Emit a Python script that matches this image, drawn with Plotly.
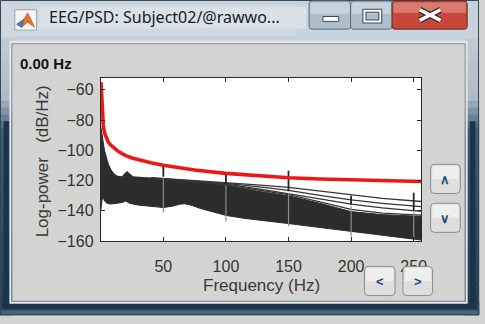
import plotly.graph_objects as go

# ---------------- data ----------------
# mean PSD (red)
freq_red = [0.25, 1, 1.5, 2, 3, 4, 6, 8, 10, 13, 16, 20, 25, 30, 40, 50, 60, 75,
            100, 125, 150, 175, 200, 225, 256]
psd_red = [-55, -68, -77, -83, -88.5, -91, -94.5, -96.5, -98, -100, -101.7, -103.5,
           -105, -106.2, -108.2, -109.8, -111, -113, -115.2, -116.8, -118.1, -118.9,
           -119.5, -120, -120.6]

# dense band of channels: upper and lower envelopes
band_upper_freq = [0, 1, 2, 3, 4, 6, 8, 10, 13, 17, 19, 21, 23, 26, 35, 45, 60, 75,
                   90, 100, 125, 150, 175, 200, 225, 256]
band_upper_db = [-84, -90, -96, -100, -103, -109, -112.5, -115, -117, -117.5, -115.5,
                 -114, -115.5, -117.5, -118, -118.5, -119.5, -120.5, -121.8, -123,
                 -127, -130, -135, -140.5, -142.5, -143.6]
band_lower_freq = [0, 1, 2, 3, 5, 8, 12, 17, 20, 23, 30, 40, 50, 58, 63, 67, 72, 80,
                   90, 100, 115, 130, 150, 175, 200, 225, 256]
band_lower_db = [-140, -133, -131, -133.5, -135, -135.5, -135, -134.5, -133.5, -135,
                 -136.2, -137, -137.8, -136.8, -135.6, -135.3, -136.2, -138.5, -141,
                 -143, -145, -146.6, -148.4, -151, -153.7, -156.3, -159.3]

# individual channels that separate from the band at high frequency
line_freq = [40, 70, 100, 125, 150, 175, 200, 225, 256]
ch_a = [-118.0, -119.6, -121.2, -122.8, -124.5, -127.0, -129.5, -131.7, -133.8]
ch_b = [-118.2, -120.0, -121.8, -124.0, -126.5, -129.7, -132.8, -135.0, -137.2]
ch_c = [-118.4, -120.4, -122.3, -125.3, -128.5, -132.0, -135.5, -138.0, -140.4]
ch_d = [-118.6, -120.8, -122.7, -126.2, -129.3, -134.0, -139.0, -141.5, -142.8]

# line-noise harmonics
harm_freq = [50, 100, 150, 200, 250]
harm_peak_db = [-109.5, -115, -113.5, -130, -128]
harm_base_db = [-118.5, -123, -128, -137, -141]
harm_dip_db = [-141, -147, -150, -157, -160]

x_ticks = [50, 100, 150, 200, 250]
y_ticks = [-160, -140, -120, -100, -80, -60]

# ---------------- layout helpers ----------------
W, H = 485, 324


def X(p):
    return p / W


def Y(p):
    return 1 - p / H


shapes = []
annots = []


def rect(x0, y0, x1, y1, fill, line=None, lw=1):
    shapes.append(dict(type="rect", xref="paper", yref="paper", layer="above",
                       x0=X(x0), x1=X(x1), y0=Y(y1), y1=Y(y0), fillcolor=fill,
                       line=dict(color=line if line else fill, width=lw if line else 0.5)))


def rrect(x0, y0, x1, y1, r, fill, line, lw=1):
    p = (f"M{X(x0+r)},{Y(y0)} L{X(x1-r)},{Y(y0)} Q{X(x1)},{Y(y0)} {X(x1)},{Y(y0+r)} "
         f"L{X(x1)},{Y(y1-r)} Q{X(x1)},{Y(y1)} {X(x1-r)},{Y(y1)} "
         f"L{X(x0+r)},{Y(y1)} Q{X(x0)},{Y(y1)} {X(x0)},{Y(y1-r)} "
         f"L{X(x0)},{Y(y0+r)} Q{X(x0)},{Y(y0)} {X(x0+r)},{Y(y0)} Z")
    shapes.append(dict(type="path", xref="paper", yref="paper", path=p, layer="above",
                       fillcolor=fill, line=dict(color=line, width=lw)))


def seg(x0, y0, x1, y1, color, w):
    shapes.append(dict(type="line", xref="paper", yref="paper", layer="above",
                       x0=X(x0), y0=Y(y0), x1=X(x1), y1=Y(y1),
                       line=dict(color=color, width=w)))


def text(x, y, s, size, color, family="Liberation Sans", xa="center", ya="middle",
         angle=0, bold=False):
    if bold:
        s = f"<b>{s}</b>"
    annots.append(dict(xref="paper", yref="paper", x=X(x), y=Y(y), text=s,
                       showarrow=False, xanchor=xa, yanchor=ya, textangle=angle,
                       font=dict(size=size, color=color, family=family)))


def mix(c1, c2, t):
    t = max(0.0, min(1.0, t))
    a = [int(c1[i:i+2], 16) for i in (1, 3, 5)]
    b = [int(c2[i:i+2], 16) for i in (1, 3, 5)]
    return "#" + "".join(f"{round(a[k] + (b[k]-a[k])*t):02x}" for k in range(3))


def frame_col(yc):
    if yc < 100:
        return mix("#c2ccd4", "#aebbc6", (yc - 38) / 62)
    if yc < 135:
        return mix("#aebbc6", "#3e5c76", (yc - 100) / 35)
    return mix("#3e5c76", "#243c52", (yc - 135) / 185)


# ---- window chrome (all drawn around the client area, never over the plot) ----
# title bar
rect(0, 0, 485, 44, "#c6d2dc")
rect(1, 4, 300, 37, "#d0d9e1")
rect(40, 7, 310, 29, "#dae1e7")
# side frames with vertical gradient
for i in range(40):
    y0 = 40 + i * 7.1
    y1 = min(y0 + 7.3, 324)
    col = frame_col(y0 + 3.5)
    rect(0, y0, 12, y1, col)
    rect(471, y0, 485, y1, col)
# bottom frame
rect(0, 310, 485, 324, "#253d53")
rect(0, 319, 485, 324, "#4a6379")
# darker band near the outer edge (lower part)
rect(4, 125, 9, 317, "#1d3448")
rect(476, 125, 481, 317, "#1d3448")
rect(4, 313, 481, 317, "#1d3448")
# light inner edge and client border
rect(10.5, 43, 472.5, 311.5, "rgba(0,0,0,0)", "#e3e7ea", 2)
rect(12, 45, 471, 310, "rgba(0,0,0,0)", "#8a929a", 1)
# outer window outline
rect(0.5, 0.5, 484.5, 323.5, "rgba(0,0,0,0)", "#34485a", 1)

# matlab icon
rect(15, 10, 37, 31, "#f4f6f8", "#9aa6b0", 1)
shapes.append(dict(type="path", xref="paper", yref="paper", layer="above",
                   path=f"M{X(17)},{Y(25)} L{X(24)},{Y(20)} L{X(28)},{Y(13)} L{X(31)},{Y(19)} "
                        f"L{X(35)},{Y(28)} L{X(28)},{Y(23)} L{X(22)},{Y(28)} Z",
                   fillcolor="#e0731f", line=dict(color="#b5421a", width=0.5)))
shapes.append(dict(type="path", xref="paper", yref="paper", layer="above",
                   path=f"M{X(17)},{Y(25)} L{X(24)},{Y(20)} L{X(22)},{Y(28)} Z",
                   fillcolor="#3f7fc4", line=dict(color="#2a5c95", width=0.5)))

# title-bar buttons
rrect(313, 1, 355, 30, 3, "#aebdca", "#5d6e7e", 1)
rrect(355, 1, 397, 30, 3, "#aebdca", "#5d6e7e", 1)
rect(314.5, 2.5, 353.5, 14, "#c6d2dc")
rect(356.5, 2.5, 395.5, 14, "#c6d2dc")
rrect(397, 1, 473, 30, 3, "#c7473a", "#6a2b26", 1)
rect(398.5, 2.5, 471.5, 13, "#d97a6c")
rect(327, 17, 343, 22, "#ffffff", "#3c4854", 1)
rect(369, 11, 385, 22, "rgba(0,0,0,0)", "#3c4854", 4)
rect(369, 11, 385, 22, "rgba(0,0,0,0)", "#ffffff", 2)
seg(425, 10, 446, 21, "#3a2420", 6)
seg(425, 21, 446, 10, "#3a2420", 6)
seg(425, 10, 446, 21, "#ffffff", 3.5)
seg(425, 21, 446, 10, "#ffffff", 3.5)
text(48, 17, "EEG/PSD: Subject02/@rawwo...", 16, "#16202c", family="Noto Sans", xa="left")

# client-area buttons
for (bx0, by0, bx1, by1, glyph) in [(436, 169, 466, 199, "∧"), (436, 209, 466, 239, "∨"),
                                     (369, 274, 400, 304, "<"), (408, 274, 438, 304, ">")]:
    rrect(bx0, by0, bx1, by1, 4, "#dedede", "#8b8b8b", 1)
    rect(bx0 + 2, by0 + 2, bx1 - 2, (by0 + by1) / 2, "#efefef")
    text((bx0 + bx1) / 2, (by0 + by1) / 2 + 1, glyph, 13, "#24488a", bold=True)

# texts
text(18, 65, "0.00 Hz", 15, "#111111", xa="left", bold=True)
text(42.5, 166, "Log-power\u00a0\u00a0\u00a0(dB/Hz)", 17, "#3a3a3a", angle=-90)
text(264.5, 294, "Frequency (Hz)", 17, "#3a3a3a")

# ---------------- traces ----------------
fig = go.Figure()
band_x = band_upper_freq + band_lower_freq[::-1]
band_y = band_upper_db + band_lower_db[::-1]
fig.add_trace(go.Scatter(x=band_x, y=band_y, fill="toself", fillcolor="#2c2c2c",
                         mode="lines", line=dict(color="#2c2c2c", width=1),
                         hoverinfo="skip", showlegend=False))

for ch in (ch_a, ch_b, ch_c, ch_d):
    fig.add_trace(go.Scatter(x=line_freq, y=ch, mode="lines",
                             line=dict(color="#363636", width=1.3),
                             hoverinfo="skip", showlegend=False))

dip_x, dip_y, pk_x, pk_y = [], [], [], []
for f, pk, base, dip in zip(harm_freq, harm_peak_db, harm_base_db, harm_dip_db):
    dip_x += [f, f, None]
    dip_y += [base, dip, None]
    pk_x += [f, f, None]
    pk_y += [base + 1, pk, None]
fig.add_trace(go.Scatter(x=dip_x, y=dip_y, mode="lines",
                         line=dict(color="#8e8e8e", width=1.2),
                         hoverinfo="skip", showlegend=False))
fig.add_trace(go.Scatter(x=pk_x, y=pk_y, mode="lines",
                         line=dict(color="#262626", width=1.8),
                         hoverinfo="skip", showlegend=False))

fig.add_trace(go.Scatter(x=freq_red, y=psd_red, mode="lines",
                         line=dict(color="#f01616", width=3.6),
                         hoverinfo="skip", showlegend=False))

axis_common = dict(showgrid=False, zeroline=False, showline=True, linecolor="#2a2a2a",
                   linewidth=1, ticks="inside", ticklen=4, tickcolor="#2a2a2a",
                   mirror="ticks", tickfont=dict(family="Liberation Sans", size=16,
                                                  color="#333333"))
fig.update_layout(
    width=W, height=H, margin=dict(l=0, r=0, t=0, b=0),
    paper_bgcolor="#d3d4d2", plot_bgcolor="#ffffff",
    xaxis=dict(range=[0, 256], domain=[X(102), X(426.5)], tickvals=x_ticks,
               ticklabelstandoff=11, **axis_common),
    yaxis=dict(range=[-160, -52], domain=[Y(248), Y(80)], tickvals=y_ticks,
               ticklabelstandoff=3, **axis_common),
    shapes=shapes, annotations=annots, showlegend=False,
)
fig.write_html("out.html")
